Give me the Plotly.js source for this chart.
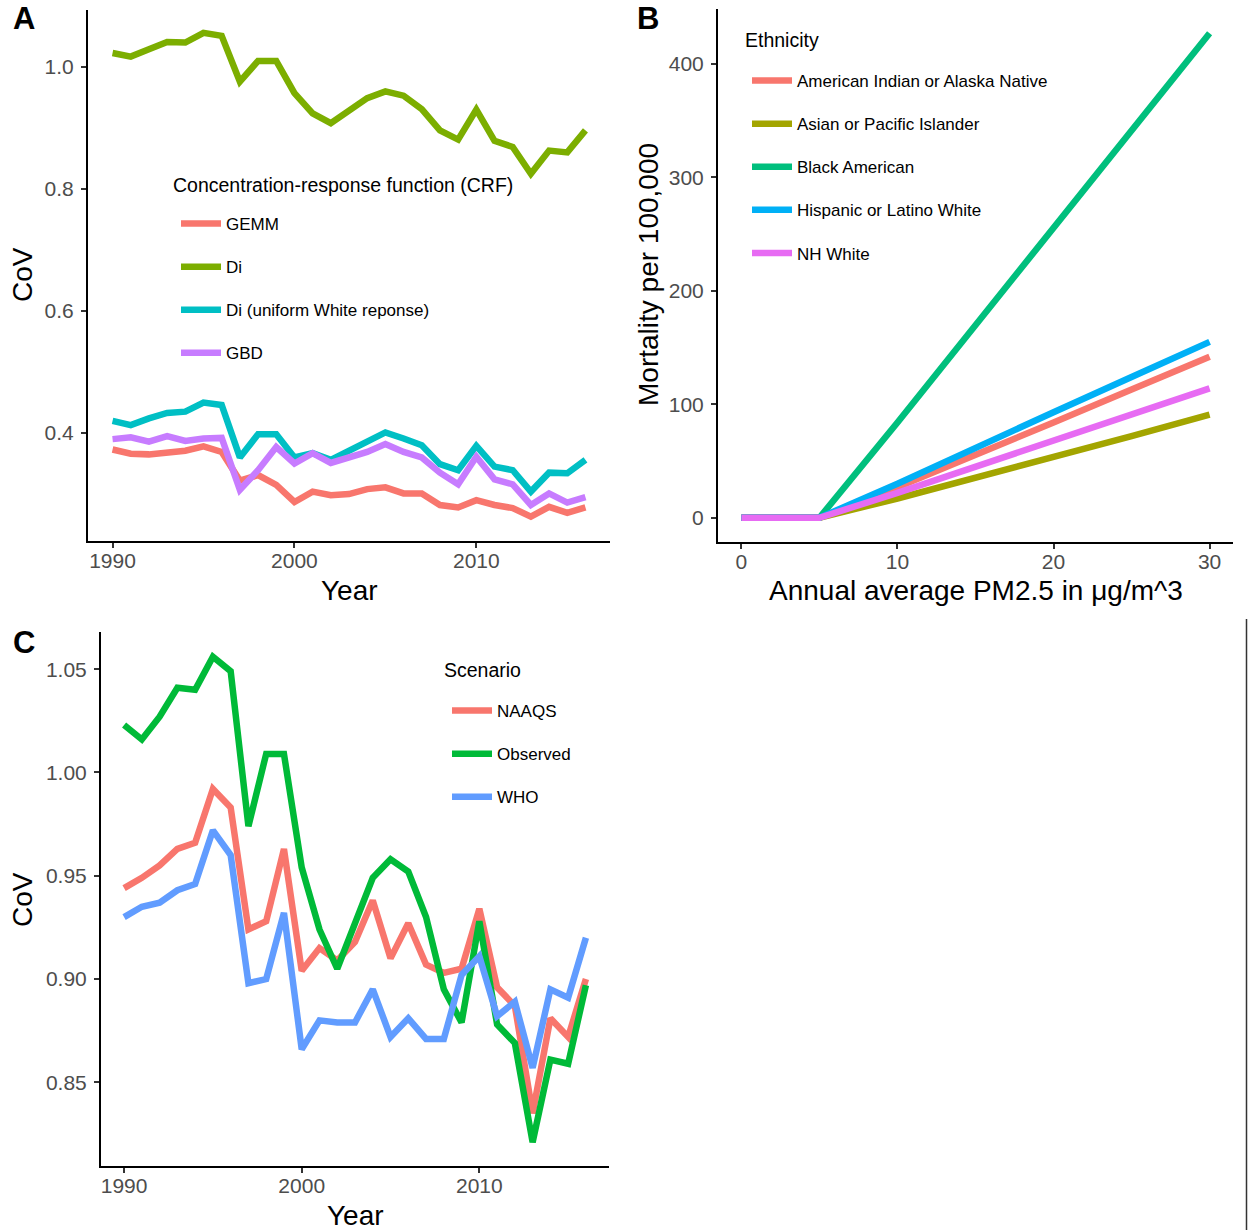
<!DOCTYPE html>
<html>
<head>
<meta charset="utf-8">
<script src="https://cdn.plot.ly/plotly-3.0.1.min.js"></script>
<style>html,body{margin:0;padding:0;background:#fff;}#chart{width:1248px;height:1230px;}</style>
</head>
<body>
<div id="chart"></div>
<script>
// ---------- Data ----------
const years = [1990,1991,1992,1993,1994,1995,1996,1997,1998,1999,2000,2001,2002,2003,2004,2005,2006,2007,2008,2009,2010,2011,2012,2013,2014,2015,2016];

// Panel A: CoV by concentration-response function
const crfTitle = "Concentration-response function (CRF)";
const crfNames = ["GEMM", "Di", "Di (uniform White reponse)", "GBD"];
const gemm      = [0.373,0.366,0.365,0.369,0.371,0.378,0.369,0.322,0.331,0.315,0.287,0.304,0.298,0.300,0.308,0.311,0.301,0.301,0.282,0.278,0.290,0.282,0.277,0.263,0.279,0.269,0.278];
const di        = [1.023,1.017,1.029,1.041,1.040,1.056,1.051,0.976,1.010,1.010,0.957,0.924,0.908,0.930,0.949,0.960,0.953,0.931,0.896,0.881,0.930,0.879,0.869,0.825,0.863,0.860,0.896];
const diUniform = [0.420,0.413,0.424,0.433,0.435,0.450,0.446,0.360,0.398,0.398,0.360,0.367,0.356,0.372,0.387,0.401,0.391,0.380,0.349,0.339,0.379,0.345,0.339,0.304,0.335,0.334,0.356];
const gbd       = [0.390,0.393,0.386,0.395,0.387,0.391,0.392,0.307,0.339,0.377,0.350,0.367,0.351,0.360,0.369,0.382,0.369,0.360,0.335,0.316,0.361,0.324,0.316,0.282,0.301,0.286,0.295];

// Panel B: mortality per 100,000 vs annual average PM2.5
const ethTitle = "Ethnicity";
const pm = [0,5,10,15,20,25,30];
const ethNames = ["American Indian or Alaska Native","Asian or Pacific Islander","Black American","Hispanic or Latino White","NH White"];
const aian     = [0,0,27,55,84,113,142];
const asian    = [0,0,17,35,54,72,91];
const black    = [0,0,84,170,256,341,427];
const hispanic = [0,0,30,62,93,124,155];
const nhWhite  = [0,0,22,45,68,91,114];

// Panel C: CoV by scenario
const scenTitle = "Scenario";
const scenNames = ["NAAQS","Observed","WHO"];
const naaqs    = [0.944,0.949,0.955,0.963,0.966,0.992,0.983,0.924,0.928,0.963,0.904,0.915,0.909,0.918,0.938,0.910,0.927,0.907,0.903,0.905,0.934,0.896,0.887,0.835,0.881,0.872,0.900];
const observed = [1.023,1.016,1.027,1.041,1.040,1.056,1.049,0.974,1.009,1.009,0.954,0.924,0.905,0.928,0.949,0.958,0.952,0.930,0.895,0.879,0.928,0.878,0.869,0.821,0.861,0.859,0.897];
const who      = [0.930,0.935,0.937,0.943,0.946,0.972,0.960,0.898,0.900,0.932,0.866,0.880,0.879,0.879,0.895,0.872,0.881,0.871,0.871,0.902,0.911,0.882,0.889,0.857,0.895,0.891,0.920];

const crfColors  = ["#F8766D","#7CAE00","#00BFC4","#C77CFF"];
const ethColors  = ["#F8766D","#A3A500","#00BF7D","#00B0F6","#E76BF3"];
const scenColors = ["#F8766D","#00BA38","#619CFF"];

// ---------- Layout helpers ----------
const W = 1248, H = 1230;
const fx = px => px / W;
const fy = px => 1 - px / H;
const FONT = "Liberation Sans, Arial, Helvetica, sans-serif";
const LW = 6.5;

function lineTrace(x, y, name, color, xa, ya, legend) {
  return {type: "scatter", mode: "lines", x: x, y: y, name: name,
          line: {color: color, width: LW}, xaxis: xa, yaxis: ya,
          legend: legend, legendgroup: legend + name};
}

const traces = [];
[gemm, di, diUniform, gbd].forEach((s, i) => traces.push(lineTrace(years, s, crfNames[i], crfColors[i], "x", "y", "legend")));
[aian, asian, black, hispanic, nhWhite].forEach((s, i) => traces.push(lineTrace(pm, s, ethNames[i], ethColors[i], "x2", "y2", "legend2")));
[naaqs, observed, who].forEach((s, i) => traces.push(lineTrace(years, s, scenNames[i], scenColors[i], "x3", "y3", "legend3")));

const tickFont = {family: FONT, size: 21, color: "#4D4D4D"};
function axis(extra) {
  return Object.assign({
    showline: true, linecolor: "#000", linewidth: 2,
    ticks: "outside", ticklen: 5, tickwidth: 2, tickcolor: "#333",
    showgrid: false, zeroline: false, fixedrange: true,
    tickfont: tickFont
  }, extra);
}

function legendCfg(xpx, ypx) {
  return {
    font: {family: FONT, size: 17, color: "#000"},
    x: fx(xpx), y: fy(ypx), xanchor: "left", yanchor: "top",
    xref: "paper", yref: "paper",
    bgcolor: "rgba(0,0,0,0)", borderwidth: 0,
    itemwidth: 40, tracegroupgap: 18, traceorder: "grouped",
    itemclick: false, itemdoubleclick: false
  };
}

const titleFont = {family: FONT, size: 28, color: "#000"};
const legTitleFont = {family: FONT, size: 19.5, color: "#000"};
function ann(text, xpx, ypx, opts) {
  return Object.assign({text: text, x: fx(xpx), y: fy(ypx), xref: "paper", yref: "paper",
    showarrow: false, xanchor: "center", yanchor: "middle", font: titleFont}, opts || {});
}
const letterFont = {family: FONT, size: 31, color: "#000", weight: "bold"};

const layout = {
  width: W, height: H,
  margin: {l: 0, r: 0, t: 0, b: 0},
  paper_bgcolor: "#fff", plot_bgcolor: "#fff",
  font: {family: FONT},
  showlegend: true,
  xaxis:  axis({domain: [fx(88), fx(610)], range: [1988.65, 2017.35], tickvals: [1990, 2000, 2010], anchor: "y", ticklabelstandoff: -5}),
  yaxis:  axis({domain: [fy(541), fy(10)], range: [0.2230, 1.0934], tickvals: [0.4, 0.6, 0.8, 1.0], ticktext: ["0.4","0.6","0.8","1.0"], anchor: "x", ticklabelstandoff: 3}),
  xaxis2: axis({domain: [fx(718), fx(1233)], range: [-1.5, 31.5], tickvals: [0, 10, 20, 30], anchor: "y2", ticklabelstandoff: -5}),
  yaxis2: axis({domain: [fy(542), fy(9)], range: [-21.35, 448.35], tickvals: [0, 100, 200, 300, 400], anchor: "x2", ticklabelstandoff: 3}),
  xaxis3: axis({domain: [fx(101), fx(609)], range: [1988.7, 2017.3], tickvals: [1990, 2000, 2010], anchor: "y3", ticklabelstandoff: -5}),
  yaxis3: axis({domain: [fy(1166), fy(632)], range: [0.8095, 1.0680], tickvals: [0.85, 0.90, 0.95, 1.00, 1.05], ticktext: ["0.85","0.90","0.95","1.00","1.05"], anchor: "x3", ticklabelstandoff: 3}),
  legend:  legendCfg(176, 206),
  legend2: legendCfg(747, 63),
  legend3: legendCfg(447, 693),
  annotations: [
    ann(crfTitle, 171, 185, {xanchor: "left", font: legTitleFont}),
    ann(ethTitle, 743, 40, {xanchor: "left", font: legTitleFont}),
    ann(scenTitle, 442, 670, {xanchor: "left", font: legTitleFont}),
    ann("Year", 349, 590),
    ann("CoV", 22, 275, {textangle: -90}),
    ann("Annual average PM2.5 in μg/m^3", 976, 590),
    ann("Mortality per 100,000", 648, 275, {textangle: -90}),
    ann("Year", 355, 1215),
    ann("CoV", 22, 900, {textangle: -90}),
    ann("A", 24, 18, {font: letterFont}),
    ann("B", 648, 18, {font: letterFont}),
    ann("C", 24, 643, {font: letterFont})
  ],
  shapes: [
    {type: "line", xref: "paper", yref: "paper", x0: fx(1246.5), x1: fx(1246.5), y0: fy(619), y1: 0,
     line: {color: "#333", width: 1.5}}
  ]
};

Plotly.newPlot("chart", traces, layout, {displayModeBar: false, staticPlot: true});
</script>
</body>
</html>
